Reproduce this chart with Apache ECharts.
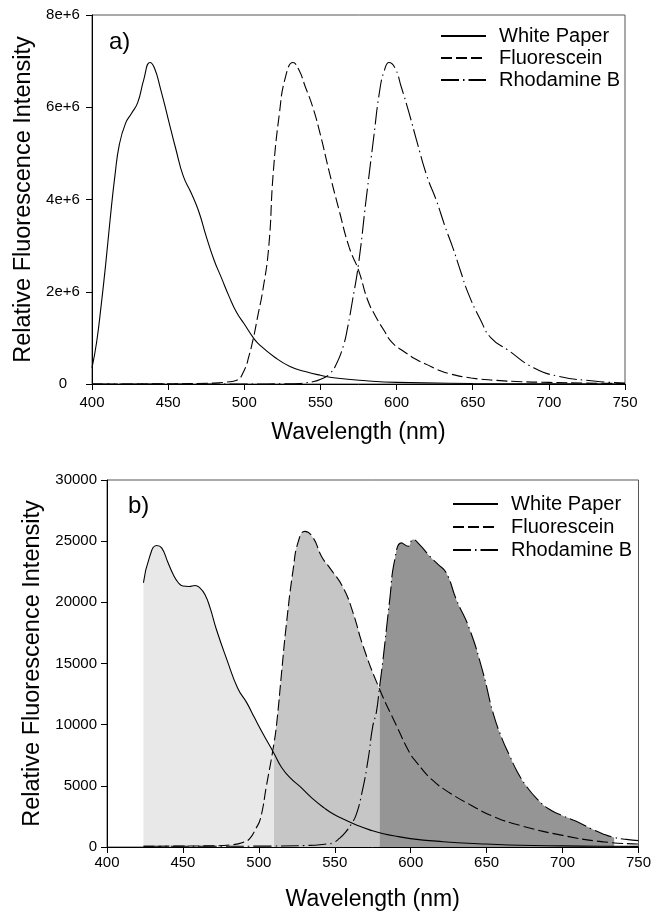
<!DOCTYPE html>
<html>
<head>
<meta charset="utf-8">
<title>Fluorescence spectra</title>
<script src="https://cdn.jsdelivr.net/npm/echarts@6/dist/echarts.min.js"></script>
<style>
  html, body { margin: 0; padding: 0; background: #fff; }
  #chart { width: 654px; height: 912px; }
</style>
</head>
<body>
<div id="chart"></div>
<script>
// ---- a) emission spectra (intensity) ----
var wlPaperA = [400, 403, 406, 409, 412, 415, 418, 422, 426, 430, 434, 438, 441, 445, 450, 455, 460, 465, 470, 475, 480, 485, 490, 495, 500, 506, 510, 520, 530, 540, 550, 560, 580, 600, 650, 700, 750];
var paperA = [0.35e6, 0.9e6, 1.7e6, 2.6e6, 3.6e6, 4.5e6, 5.2e6, 5.65e6, 5.87e6, 6.1e6, 6.6e6, 6.97e6, 6.85e6, 6.4e6, 5.75e6, 5.1e6, 4.5e6, 4.15e6, 3.75e6, 3.2e6, 2.7e6, 2.3e6, 1.9e6, 1.55e6, 1.3e6, 1.0e6, 0.85e6, 0.58e6, 0.38e6, 0.27e6, 0.19e6, 0.13e6, 0.07e6, 0.035e6, 0.012e6, 0.004e6, 0];

var wlFluorA = [400, 450, 480, 488, 495, 500, 503, 506, 509, 512, 516, 519, 523, 527, 532, 536, 540, 545, 550, 556, 562, 569, 575, 581, 586, 592, 597, 605, 613, 620, 627, 635, 649, 665, 682, 700, 725, 750];
var fluorA = [0, 0.005e6, 0.02e6, 0.04e6, 0.08e6, 0.3e6, 0.6e6, 1.0e6, 1.5e6, 2.0e6, 2.95e6, 4.57e6, 5.85e6, 6.65e6, 6.97e6, 6.8e6, 6.45e6, 6.0e6, 5.4e6, 4.57e6, 3.8e6, 2.95e6, 2.47e6, 1.82e6, 1.48e6, 1.15e6, 0.9e6, 0.7e6, 0.53e6, 0.42e6, 0.31e6, 0.22e6, 0.13e6, 0.08e6, 0.05e6, 0.035e6, 0.02e6, 0.01e6];

var wlRhodA = [400, 500, 530, 545, 552, 556, 560, 565, 568, 571, 575, 580, 585, 589, 592, 595, 599, 603, 608, 613, 620, 626, 632, 637, 642, 647, 655, 662, 673, 690, 706, 731, 750];
var rhodA = [0, 0, 0.005e6, 0.05e6, 0.13e6, 0.22e6, 0.4e6, 0.82e6, 1.25e6, 1.8e6, 2.6e6, 4.0e6, 5.35e6, 6.38e6, 6.8e6, 6.97e6, 6.85e6, 6.45e6, 5.9e6, 5.3e6, 4.5e6, 3.99e6, 3.4e6, 2.95e6, 2.45e6, 1.97e6, 1.4e6, 1.0e6, 0.74e6, 0.35e6, 0.17e6, 0.06e6, 0.02e6];

// ---- b) camera spectra ----
var wlPaperB = [424, 428, 432.7, 436, 440, 443.6, 447, 450, 454, 458, 461, 464.5, 468, 472, 479, 486, 492, 497, 503, 510, 515, 521, 527, 535, 543, 549, 557, 565, 573, 582, 592, 604, 617, 631, 650, 672, 700, 725, 750];
var paperB = [21600, 23700, 24640, 24450, 23300, 22280, 21600, 21330, 21300, 21380, 21200, 20650, 19500, 17800, 15300, 13000, 11800, 10600, 9200, 7650, 6500, 5600, 4950, 4000, 3200, 2700, 2200, 1760, 1400, 1080, 850, 620, 480, 350, 240, 140, 90, 60, 50];

var wlFluorB = [424, 450, 470, 483, 490, 494, 498, 501, 505, 510, 512, 515, 518, 522.6, 526, 530.3, 535.8, 541.2, 546.7, 555.5, 562, 568.6, 579.5, 590.6, 599.3, 604, 614, 626, 640, 653, 672, 700, 727, 750];
var fluorB = [60, 80, 100, 190, 400, 680, 1500, 2300, 5000, 8500, 10400, 14300, 18070, 22690, 24990, 25800, 25270, 23770, 22820, 21200, 19160, 16440, 12900, 9930, 7700, 6900, 5500, 4400, 3400, 2570, 1760, 950, 420, 250];

var wlRhodB = [424, 470, 500, 530, 545, 549, 553, 557, 561, 564, 568, 572, 575, 577.4, 579.5, 581.8, 586.2, 589.5, 593.9, 598.2, 601.5, 606, 612.5, 618, 623.4, 630, 638.8, 647.6, 654.1, 660, 665.1, 670, 676, 683.3, 691, 699.8, 709, 719, 727, 734, 742, 750];
var rhodB = [60, 60, 70, 120, 250, 350, 700, 1200, 1900, 2600, 4500, 7200, 9860, 11030, 13100, 15360, 20240, 23500, 24860, 24580, 25130, 24700, 23770, 23100, 22420, 20240, 17800, 14270, 11020, 8900, 7480, 6200, 5000, 3920, 3100, 2570, 2100, 1490, 1050, 780, 620, 520];

// shaded bands in b): [from, to] wavelength
var bandPaper = [424, 510];
var bandFluor = [510, 579.5];
var bandRhod = [579.5, 734];

var xTicks = [400, 750, 50];
var names = ['White Paper', 'Fluorescein', 'Rhodamine B'];

var font = 'Liberation Sans, Arial, sans-serif';
var styles = {
  'White Paper': 'solid',
  'Fluorescein': [11, 4],
  'Rhodamine B': [18, 4, 1.5, 4]
};

function pairs(xs, ys) {
  return xs.map(function (x, i) { return [x, ys[i]]; });
}
function cut(d, band) {
  return d.filter(function (p) { return p[0] >= band[0] && p[0] <= band[1]; });
}

var dPaperB = pairs(wlPaperB, paperB);
var dFluorB = pairs(wlFluorB, fluorB);
var dRhodB = pairs(wlRhodB, rhodB);

function lineSeries(name, data, idx) {
  return {
    name: name,
    type: 'line',
    xAxisIndex: idx,
    yAxisIndex: idx,
    data: data,
    symbol: 'none',
    smooth: 0.5,
    z: 5,
    lineStyle: { color: '#000', width: 1.1, type: styles[name] },
    itemStyle: { color: '#000' }
  };
}
function fillSeries(data, color) {
  return {
    type: 'line',
    xAxisIndex: 1,
    yAxisIndex: 1,
    data: data,
    symbol: 'none',
    smooth: 0.5,
    z: 1,
    silent: true,
    lineStyle: { width: 0, opacity: 0 },
    areaStyle: { color: color, opacity: 1 }
  };
}

function xAxis(idx, margin, gap) {
  return {
    gridIndex: idx,
    type: 'value',
    min: xTicks[0],
    max: xTicks[1],
    interval: xTicks[2],
    name: 'Wavelength (nm)',
    nameLocation: 'middle',
    nameGap: gap,
    nameTextStyle: { fontSize: 23, color: '#000', fontFamily: font },
    axisLine: { onZero: false, lineStyle: { color: '#000', width: 1 } },
    axisTick: { length: 6, lineStyle: { color: '#000' } },
    axisLabel: { margin: margin, fontSize: 15, color: '#000', fontFamily: font },
    splitLine: { show: false }
  };
}
function yAxis(idx, max, step, gap, fmt, align, margin) {
  return {
    gridIndex: idx,
    type: 'value',
    min: 0,
    max: max,
    interval: step,
    name: 'Relative Fluorescence Intensity',
    nameLocation: 'middle',
    nameGap: gap,
    nameTextStyle: { fontSize: 23.5, color: '#000', fontFamily: font },
    axisLine: { show: true, lineStyle: { color: '#000', width: 1 } },
    axisTick: { show: true, length: 6, lineStyle: { color: '#000' } },
    axisLabel: { margin: margin, align: align, fontSize: 15, color: '#000', fontFamily: font, formatter: fmt },
    splitLine: { show: false }
  };
}
function legend(left, top, gap) {
  return {
    data: names,
    orient: 'vertical',
    left: left,
    top: top,
    itemWidth: 45,
    itemHeight: 10,
    itemGap: gap,
    selectedMode: false,
    itemStyle: { color: 'rgba(0,0,0,0)', borderColor: 'rgba(0,0,0,0)', borderWidth: 0 },
    textStyle: { fontSize: 20, lineHeight: 20, color: '#000', fontFamily: font, padding: [0, 0, 0, 8] }
  };
}

var chart = echarts.init(document.getElementById('chart'));
chart.setOption({
  animation: false,
  backgroundColor: '#fff',
  title: [
    { text: 'a)', left: 104, top: 25, textStyle: { fontSize: 24, fontWeight: 'normal', color: '#000', fontFamily: font } },
    { text: 'b)', left: 123, top: 489, textStyle: { fontSize: 24, fontWeight: 'normal', color: '#000', fontFamily: font } }
  ],
  legend: [legend(435, 21, 2), legend(447, 489, 3)],
  grid: [
    { left: 92, top: 15, width: 533, height: 369, show: true, borderColor: '#555', borderWidth: 1 },
    { left: 107, top: 480, width: 532, height: 369, show: true, borderColor: '#555', borderWidth: 1 }
  ],
  xAxis: [xAxis(0, 11, 37), xAxis(1, 8, 41)],
  yAxis: [
    yAxis(0, 8e6, 2e6, 44, function (v) { return v === 0 ? '0' : (v / 1e6) + 'e+6'; }, 'center', 29),
    yAxis(1, 30000, 5000, 59, function (v) { return String(v); }, 'right', 10)
  ],
  series: [
    lineSeries('White Paper', pairs(wlPaperA, paperA), 0),
    lineSeries('Fluorescein', pairs(wlFluorA, fluorA), 0),
    lineSeries('Rhodamine B', pairs(wlRhodA, rhodA), 0),
    fillSeries(cut(dPaperB, bandPaper), '#e8e8e8'),
    fillSeries(cut(dFluorB, bandFluor), '#c6c6c6'),
    fillSeries(cut(dRhodB, bandRhod), '#959595'),
    lineSeries('White Paper', dPaperB, 1),
    lineSeries('Fluorescein', dFluorB, 1),
    lineSeries('Rhodamine B', dRhodB, 1)
  ]
});
</script>
</body>
</html>
